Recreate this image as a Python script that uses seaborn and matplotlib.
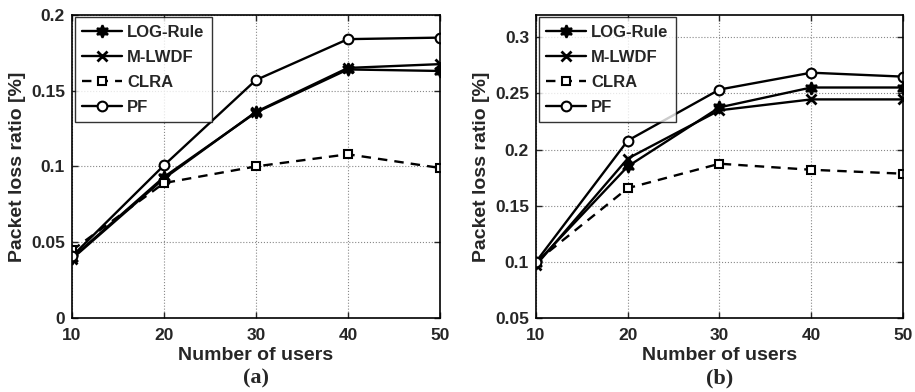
import matplotlib
matplotlib.use("Agg")
import matplotlib.pyplot as plt
import matplotlib.ticker as mticker
import pandas as pd
import seaborn as sns

# Data
users = [10, 20, 30, 40, 50]
schemes = ["LOG-Rule", "M-LWDF", "CLRA", "PF"]

# panel (a)
log_rule_a = [0.0396, 0.093, 0.1356, 0.164, 0.163]
mlwdf_a = [0.039, 0.092, 0.136, 0.165, 0.1675]
clra_a = [0.0446, 0.089, 0.100, 0.108, 0.099]
pf_a = [0.0407, 0.1007, 0.157, 0.184, 0.185]

# panel (b)
log_rule_b = [0.0985, 0.185, 0.2376, 0.2553, 0.2553]
mlwdf_b = [0.097, 0.192, 0.235, 0.2447, 0.2447]
clra_b = [0.100, 0.1656, 0.1874, 0.182, 0.1785]
pf_b = [0.100, 0.208, 0.2535, 0.2685, 0.265]

yticks_a = [0, 0.05, 0.1, 0.15, 0.2]
yticks_b = [0.05, 0.1, 0.15, 0.2, 0.25, 0.3]

sns.set_theme(style="ticks")
plt.rcParams["font.family"] = ["Liberation Sans", "DejaVu Sans"]
plt.rcParams["font.weight"] = "bold"
plt.rcParams["xtick.direction"] = "in"
plt.rcParams["ytick.direction"] = "in"

styles = {
    "LOG-Rule": dict(marker=(6, 1, 0), ls="-", mfc="black", ms=9),
    "M-LWDF": dict(marker="x", ls="-", mfc="black", ms=7, mew=2),
    "CLRA": dict(marker="s", ls=(0, (4, 3)), mfc="white", ms=5.5),
    "PF": dict(marker="o", ls="-", mfc="white", ms=7),
}


def to_frame(series):
    rows = []
    for name, vals in zip(schemes, series):
        for u, v in zip(users, vals):
            rows.append({"users": u, "loss": v, "scheme": name})
    return pd.DataFrame(rows)


def draw_panel(ax, df, ylim, yticks, caption):
    for name in schemes:
        sub = df[df["scheme"] == name]
        st = styles[name]
        sns.lineplot(data=sub, x="users", y="loss", ax=ax, color="black",
                     lw=1.7, linestyle=st["ls"], marker=st["marker"],
                     markersize=st["ms"], markerfacecolor=st["mfc"],
                     markeredgecolor="black", markeredgewidth=st.get("mew", 1.5),
                     label=name)
    ax.set_xlim(10, 50)
    ax.set_ylim(*ylim)
    ax.set_xticks(users)
    ax.set_yticks(yticks)
    ax.yaxis.set_major_formatter(mticker.FuncFormatter(lambda v, p: f"{v:g}"))
    ax.tick_params(labelsize=12.5, length=4, width=1, top=True, right=True)
    ax.tick_params(axis="x", pad=7)
    ax.tick_params(axis="y", pad=5)
    for lab in ax.get_xticklabels() + ax.get_yticklabels():
        lab.set_fontweight("bold")
    ax.grid(True, ls=":", color="#888888", lw=0.8)
    for sp in ax.spines.values():
        sp.set_color("black")
        sp.set_linewidth(1.2)
    ax.set_xlabel("Number of users", fontsize=14, fontweight="bold", labelpad=3)
    ax.set_ylabel("Packet loss ratio [%]", fontsize=14, fontweight="bold", labelpad=4)
    leg = ax.legend(loc="upper left", fontsize=12, frameon=True, fancybox=False,
                    handlelength=2.4, handletextpad=0.3, borderpad=0.45,
                    labelspacing=0.6, borderaxespad=0.15)
    leg.get_frame().set_edgecolor("black")
    leg.get_frame().set_linewidth(1.0)
    for t in leg.get_texts():
        t.set_fontweight("bold")
    bb = ax.get_position()
    fig.text(bb.x0 + bb.width / 2, 0.035, caption, ha="center", va="center",
             fontsize=16, fontweight="bold", family="Liberation Serif")


fig = plt.figure(figsize=(9.15, 3.92), dpi=100)
ax1 = fig.add_axes([0.0787, 0.189, 0.402, 0.773])
ax2 = fig.add_axes([0.5858, 0.189, 0.401, 0.773])

draw_panel(ax1, to_frame([log_rule_a, mlwdf_a, clra_a, pf_a]), (0, 0.2), yticks_a, "(a)")
draw_panel(ax2, to_frame([log_rule_b, mlwdf_b, clra_b, pf_b]), (0.05, 0.32), yticks_b, "(b)")

fig.savefig("out.png", dpi=100)
